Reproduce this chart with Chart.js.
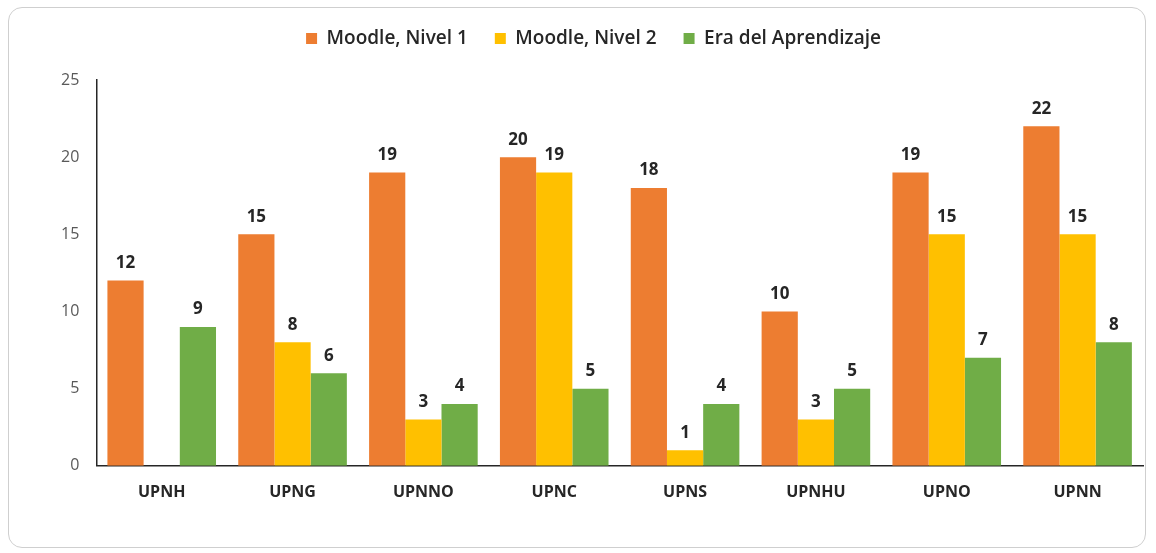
<!DOCTYPE html>
<html>
<head>
<meta charset="utf-8" />
<title>Moodle chart</title>
<style>
	html, body { margin: 0; padding: 0; background: #fff; }
	#frame {
		position: absolute; left: 8px; top: 7px; width: 1138px; height: 541px;
		border: 1px solid #cfcfcf; border-radius: 14px; box-sizing: border-box;
	}
	#wrap { position: absolute; left: 0; top: 0; width: 1156px; height: 553px; }
</style>
</head>
<body>
<div id="frame"></div>
<div id="wrap"><canvas id="chart"></canvas></div>

<script src="https://cdn.jsdelivr.net/npm/chart.js@4.4.0/dist/chart.umd.min.js"></script>
<script>
	var categories = ['UPNH', 'UPNG', 'UPNNO', 'UPNC', 'UPNS', 'UPNHU', 'UPNO', 'UPNN']
	var moodle1 = [12, 15, 19, 20, 18, 10, 19, 22]
	var moodle2 = [0, 8, 3, 19, 1, 3, 15, 15]
	var era = [9, 6, 4, 5, 4, 5, 7, 8]
	var yTicks = [0, 5, 10, 15, 20, 25]

	// numbers above the bars
	var barLabels = {
		id: 'barLabels',
		afterDatasetsDraw: function (chart) {
			var ctx = chart.ctx
			ctx.save()
			ctx.font = 'bold 17px "Open Sans", sans-serif'
			ctx.fillStyle = '#262626'
			ctx.textAlign = 'center'
			ctx.textBaseline = 'bottom'
			chart.data.datasets.forEach(function (ds, i) {
				var meta = chart.getDatasetMeta(i)
				meta.data.forEach(function (bar, j) {
					if (!ds.data[j]) return
					ctx.fillText(ds.data[j], bar.x, bar.y - 9)
				})
			})
			ctx.restore()
		}
	}

	// extra room between legend and plot
	var legendGap = {
		id: 'legendGap',
		beforeUpdate: function (chart) {
			var lg = chart.legend
			if (!lg || lg._gapPatched) return
			var fit = lg.fit
			lg.fit = function () {
				fit.call(this)
				this.height += 22
			}
			lg._gapPatched = true
		}
	}

	var ctx = document.getElementById('chart').getContext('2d')
	new Chart(ctx, {
		type: 'bar',
		data: {
			labels: categories,
			datasets: [
				{ label: 'Moodle, Nivel 1', data: moodle1, backgroundColor: '#ED7D31' },
				{ label: 'Moodle, Nivel 2', data: moodle2, backgroundColor: '#FFC000' },
				{ label: 'Era del Aprendizaje', data: era, backgroundColor: '#70AD47' }
			]
		},
		options: {
			responsive: true,
			maintainAspectRatio: false,
			animation: false,
			datasets: { bar: { barPercentage: 1, categoryPercentage: 0.83 } },
			layout: { padding: { left: 44, right: 13, top: 2, bottom: 34 } },
			plugins: {
				tooltip: { enabled: false },
				legend: {
					position: 'top',
					labels: {
						boxWidth: 11, boxHeight: 11, padding: 27,
						color: '#262626',
						font: { family: '"Open Sans", sans-serif', size: 19, weight: '600' }
					}
				}
			},
			scales: {
				x: {
					grid: { display: false, drawTicks: false },
					border: { color: '#262626', width: 1.5 },
					ticks: {
						padding: 17, color: '#262626',
						font: { family: '"Open Sans", sans-serif', size: 16, weight: 'bold' }
					}
				},
				y: {
					min: 0, max: 25,
					afterBuildTicks: function (axis) {
						axis.ticks = yTicks.map(function (v) { return { value: v } })
					},
					grid: { display: false, drawTicks: false },
					border: { color: '#262626', width: 1.5 },
					ticks: {
						padding: 17, color: '#595959',
						font: { family: '"Open Sans", sans-serif', size: 16 }
					}
				}
			}
		},
		plugins: [barLabels, legendGap]
	})
</script>
</body>
</html>
